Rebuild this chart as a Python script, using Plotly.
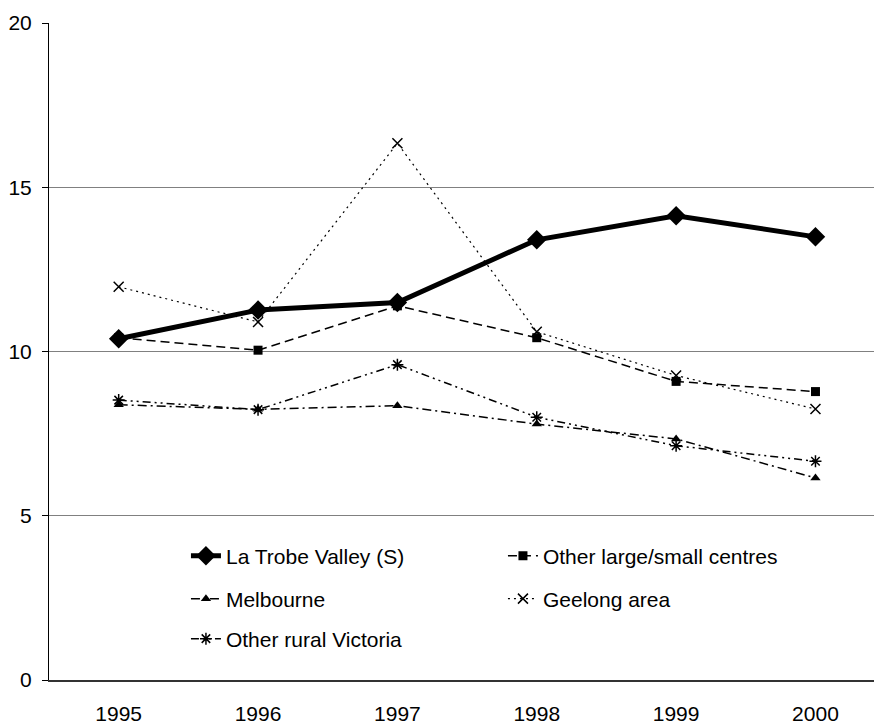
import plotly.graph_objects as go

years = ["1995", "1996", "1997", "1998", "1999", "2000"]
la_trobe = [10.39, 11.26, 11.49, 13.40, 14.13, 13.49]
other_large = [10.42, 10.04, 11.39, 10.42, 9.09, 8.78]
melbourne = [8.38, 8.24, 8.35, 7.79, 7.34, 6.15]
geelong = [11.97, 10.90, 16.34, 10.60, 9.27, 8.25]
other_rural = [8.52, 8.23, 9.60, 8.00, 7.13, 6.66]

FONT = "Arial, Liberation Sans, sans-serif"

fig = go.Figure()
fig.add_trace(go.Scatter(x=years, y=la_trobe, name="La Trobe Valley (S)", mode="lines+markers",
                         line=dict(color="black", width=5),
                         marker=dict(symbol="diamond", size=15, color="black"), legend="legend"))
fig.add_trace(go.Scatter(x=years, y=other_large, name="Other large/small centres", mode="lines+markers",
                         line=dict(color="black", width=1.5, dash="9px,5px"),
                         marker=dict(symbol="square", size=9, color="black"), legend="legend"))
fig.add_trace(go.Scatter(x=years, y=melbourne, name="Melbourne", mode="lines+markers",
                         line=dict(color="black", width=1.5, dash="9px,4px,2px,4px"),
                         marker=dict(symbol="triangle-up", size=9, color="black"), legend="legend2"))
fig.add_trace(go.Scatter(x=years, y=geelong, name="Geelong area", mode="lines+markers",
                         line=dict(color="black", width=1.2, dash="2px,4px"),
                         marker=dict(symbol="x-thin-open", size=10, color="black",
                                     line=dict(color="black", width=1.5)), legend="legend2"))
fig.add_trace(go.Scatter(x=years, y=other_rural, name="Other rural Victoria", mode="lines+markers",
                         line=dict(color="black", width=1.5, dash="8px,4px,2px,4px,2px,4px"),
                         marker=dict(symbol="asterisk-open", size=10, color="black",
                                     line=dict(color="black", width=1.5)), legend="legend3"))

leg_common = dict(orientation="h", xanchor="left", yanchor="middle", x=0.166,
                  font=dict(family=FONT, size=21, color="black"),
                  bgcolor="rgba(0,0,0,0)", entrywidth=272, entrywidthmode="pixels",
                  itemclick=False, itemdoubleclick=False)

fig.update_layout(
    width=874, height=724,
    margin=dict(l=49, r=0, t=23, b=44),
    paper_bgcolor="white", plot_bgcolor="white",
    font=dict(family=FONT, size=21, color="black"),
    showlegend=True,
    legend=dict(**leg_common, y=0.1887),
    legend2=dict(**leg_common, y=0.1233),
    legend3=dict(**leg_common, y=0.0624),
    xaxis=dict(type="category", range=[-0.5, 5.42], showgrid=False,
               showline=True, linecolor="#333333", linewidth=1.5,
               ticks="", ticklabelstandoff=14, tickfont=dict(family=FONT, size=21, color="black"),
               zeroline=False, fixedrange=True),
    yaxis=dict(range=[0, 20], tickvals=[0, 5, 10, 15, 20], showgrid=True,
               gridcolor="#808080", gridwidth=1,
               showline=True, linecolor="black", linewidth=1,
               ticks="outside", ticklen=6, tickcolor="black",
               ticklabelstandoff=6, tickfont=dict(family=FONT, size=21, color="black"),
               zeroline=False, fixedrange=True),
)

fig.write_html("out.html", config={"displayModeBar": False},
               post_script="document.body.style.margin='0';document.body.style.overflow='hidden';")
